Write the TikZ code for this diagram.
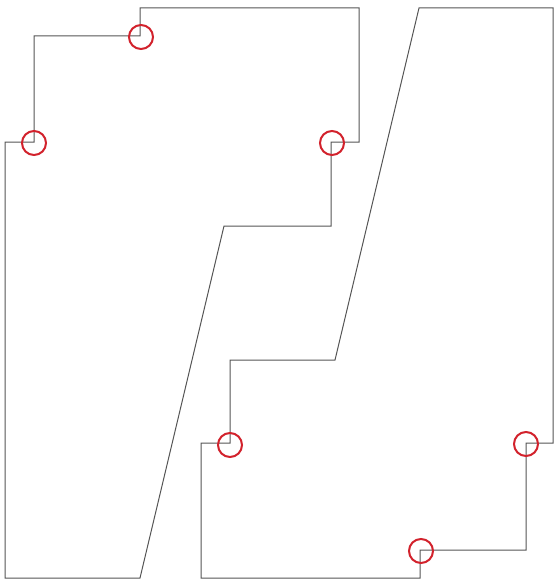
\documentclass[tikz,border=0pt]{standalone}
\usepackage{xcolor}
\usetikzlibrary{positioning}
\definecolor{Linie}{HTML}{555555}
\definecolor{Marke}{HTML}{D2222C}
\tikzset{
  Umriss/.style={draw=Linie,line width=1pt,line join=miter}, % für Umrisse
  Kreis/.style={draw=Marke,line width=2pt,circle,minimum size=24pt,inner sep=0pt} % für Markierungen
}
\begin{document}
\begin{tikzpicture}[x=1pt,y=-1pt]
\useasboundingbox (0,0) rectangle (555,583);

%Eckpunkte links
\coordinate (L1) at (140,8);
\coordinate (L2) at (359,8);
\coordinate (L3) at (359,142);
\coordinate (L4) at (331,142);
\coordinate (L5) at (331,226);
\coordinate (L6) at (224,226);
\coordinate (L7) at (140,578);
\coordinate (L8) at (5,578);
\coordinate (L9) at (5,142);
\coordinate (L10) at (34,142);
\coordinate (L11) at (34,36);
\coordinate (L12) at (140,36);

%Eckpunkte rechts
\coordinate (R1) at (419,8);
\coordinate (R2) at (553,8);
\coordinate (R3) at (553,443);
\coordinate (R4) at (526,443);
\coordinate (R5) at (526,550);
\coordinate (R6) at (420,550);
\coordinate (R7) at (420,578);
\coordinate (R8) at (201,578);
\coordinate (R9) at (201,443);
\coordinate (R10) at (230,443);
\coordinate (R11) at (230,360);
\coordinate (R12) at (335,360);

%Umrisse
\draw[Umriss] (L1) -- (L2) -- (L3) -- (L4) -- (L5) -- (L6) -- (L7) -- (L8)
  -- (L9) -- (L10) -- (L11) -- (L12) -- cycle;
\draw[Umriss] (R1) -- (R2) -- (R3) -- (R4) -- (R5) -- (R6) -- (R7) -- (R8)
  -- (R9) -- (R10) -- (R11) -- (R12) -- cycle;

%Markierungen
\node[Kreis] (K1) at ([shift={(1,1)}]L12) {};
\node[Kreis] (K2) at ([shift={(0,1)}]L10) {};
\node[Kreis] (K3) at ([shift={(1,1)}]L4) {};
\node[Kreis] (K4) at ([shift={(0,2)}]R10) {};
\node[Kreis] (K5) at ([shift={(0,1)}]R4) {};
\node[Kreis] (K6) at ([shift={(1,1)}]R6) {};

\end{tikzpicture}
\end{document}
